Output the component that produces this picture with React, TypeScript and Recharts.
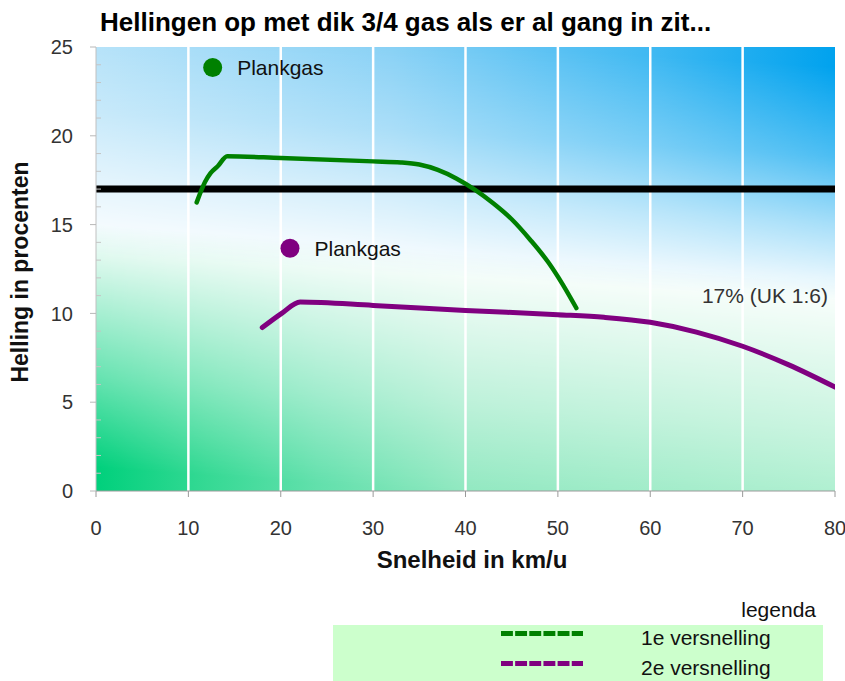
import React from 'react';
import {
  ComposedChart,
  Line,
  XAxis,
  YAxis,
  ReferenceArea,
  ReferenceLine,
  ReferenceDot,
} from 'recharts';

// ---- data ----
const gear1Speed = [10.9, 11.8, 12.4, 13.2, 14.2, 20, 30, 33, 35, 37, 39, 41, 43, 45, 47, 49, 50.5, 52];
const gear1Slope = [16.25, 17.4, 17.9, 18.3, 18.85, 18.75, 18.56, 18.5, 18.38, 18.08, 17.6, 16.97, 16.2, 15.3, 14.15, 12.85, 11.65, 10.3];

const gear2Speed = [18, 20.1, 22.1, 30, 40, 50, 55, 60, 65, 70, 75, 80];
const gear2Slope = [9.2, 10.0, 10.64, 10.45, 10.17, 9.93, 9.78, 9.5, 8.95, 8.15, 7.1, 5.85];

const seriesNames = ['1e versnelling', '2e versnelling'];
const seriesColors = ['#008000', '#800080'];

const xTicks = [0, 10, 20, 30, 40, 50, 60, 70, 80];
const yTicks = [0, 1, 2, 3, 4, 5, 6, 7, 8, 9, 10, 11, 12, 13, 14, 15, 16, 17, 18, 19, 20, 21, 22, 23, 24, 25];
const gridX = [10, 20, 30, 40, 50, 60, 70];

const limitSlope = 17;
const limitLabel = '17% (UK 1:6)';
const limitLabelAt = { x: 80, y: 11 };
const markers = [
  { x: 12.63, y: 23.85, label: 'Plankgas', color: '#008000' },
  { x: 21.0, y: 13.67, label: 'Plankgas', color: '#800080' },
];

const title = 'Hellingen op met dik 3/4 gas als er al gang in zit...';
const xLabel = 'Snelheid in km/u';
const yLabel = 'Helling in procenten';
const legendTitle = 'legenda';

const gear1 = gear1Speed.map((x, i) => ({ x, y: gear1Slope[i] }));
const gear2 = gear2Speed.map((x, i) => ({ x, y: gear2Slope[i] }));

const FONT = "Arial, 'Liberation Sans', sans-serif";

const BgShape = (props: any) => {
  const { x, y, width, height } = props;
  if (x == null) return null;
  return (
    <g>
      <defs>
        <linearGradient id="blueH" x1="0" y1="0" x2="1" y2="0">
          <stop offset="0" stopColor="#b0e0f8" />
          <stop offset="0.4" stopColor="#86d0f5" />
          <stop offset="0.75" stopColor="#40b9f2" />
          <stop offset="1" stopColor="#00a2ee" />
        </linearGradient>
        <linearGradient id="greenH" x1="0" y1="0" x2="1" y2="0">
          <stop offset="0" stopColor="#00d07c" />
          <stop offset="0.15" stopColor="#35d994" />
          <stop offset="0.3" stopColor="#62e0ac" />
          <stop offset="0.5" stopColor="#90e8c0" />
          <stop offset="1" stopColor="#a4edca" />
        </linearGradient>
        <linearGradient id="blueV" x1="0.55" y1="0" x2="0.45" y2="1">
          <stop offset="0" stopColor="#ffffff" stopOpacity={1} />
          <stop offset="0.2" stopColor="#ffffff" stopOpacity={0.7} />
          <stop offset="0.35" stopColor="#ffffff" stopOpacity={0.35} />
          <stop offset="0.52" stopColor="#ffffff" stopOpacity={0} />
          <stop offset="1" stopColor="#ffffff" stopOpacity={0} />
        </linearGradient>
        <linearGradient id="greenV" x1="0.56" y1="0" x2="0.44" y2="1">
          <stop offset="0" stopColor="#ffffff" stopOpacity={0} />
          <stop offset="0.46" stopColor="#ffffff" stopOpacity={0} />
          <stop offset="0.6" stopColor="#ffffff" stopOpacity={0.25} />
          <stop offset="0.8" stopColor="#ffffff" stopOpacity={0.6} />
          <stop offset="0.95" stopColor="#ffffff" stopOpacity={0.9} />
          <stop offset="1" stopColor="#ffffff" stopOpacity={1} />
        </linearGradient>
        <mask id="blueMask" maskUnits="userSpaceOnUse" x={x} y={y} width={width} height={height}>
          <rect x={x} y={y} width={width} height={height} fill="url(#blueV)" />
        </mask>
        <mask id="greenMask" maskUnits="userSpaceOnUse" x={x} y={y} width={width} height={height}>
          <rect x={x} y={y} width={width} height={height} fill="url(#greenV)" />
        </mask>
      </defs>
      <rect x={x} y={y} width={width} height={height} fill="#ffffff" />
      <rect x={x} y={y} width={width} height={height} fill="url(#blueH)" mask="url(#blueMask)" />
      <rect x={x} y={y} width={width} height={height} fill="url(#greenH)" mask="url(#greenMask)" />
    </g>
  );
};

const YTick = (props: any) => {
  const { x, y, payload } = props;
  const v = payload.value;
  const axisX = x + 23;
  const major = v % 5 === 0;
  return (
    <g>
      {major ? (
        <line x1={axisX - 6} x2={axisX} y1={y} y2={y} stroke="#b8b8b8" strokeWidth={1} />
      ) : (
        <line x1={axisX} x2={axisX + 5} y1={y} y2={y} stroke="#c4c4c4" strokeWidth={1} />
      )}
      {major && (
        <text x={x} y={y} dy="0.355em" textAnchor="end" fontSize={20} fill="#333" fontFamily={FONT}>
          {v}
        </text>
      )}
    </g>
  );
};

const XLabel = (props: any) => {
  const vb = props.viewBox || {};
  return (
    <text
      x={vb.x + vb.width / 2 + 6.5}
      y={vb.y + 77}
      textAnchor="middle"
      fontSize={24}
      fontWeight="bold"
      fill="#111"
      fontFamily={FONT}
    >
      {xLabel}
    </text>
  );
};

const YLabel = (props: any) => {
  const vb = props.viewBox || {};
  return (
    <text
      transform={`translate(${vb.x - 8}, ${vb.y + vb.height / 2 + 3}) rotate(-90)`}
      textAnchor="middle"
      fontSize={23}
      fontWeight="bold"
      fill="#111"
      fontFamily={FONT}
    >
      {yLabel}
    </text>
  );
};

export default function App() {
  return (
    <div style={{ position: 'absolute', left: 0, top: 0, width: 845, height: 681, background: '#fff', fontFamily: FONT }}>
      <div
        style={{
          position: 'absolute',
          left: 100,
          top: 9,
          fontSize: 26,
          lineHeight: 1,
          fontWeight: 'bold',
          whiteSpace: 'nowrap',
          color: '#000',
        }}
      >
        {title}
      </div>
      <ComposedChart
        width={845}
        height={681}
        margin={{ top: 47, right: 10, left: 36, bottom: 150 }}
        style={{ position: 'absolute', left: 0, top: 0 }}
      >
        <XAxis
          type="number"
          dataKey="x"
          domain={[0, 80]}
          ticks={xTicks}
          interval={0}
          allowDataOverflow
          height={40}
          stroke="#9a9a9a"
          tickSize={6}
          tickMargin={24}
          tick={{ fontSize: 20, fill: '#333', fontFamily: FONT }}
          label={<XLabel />}
        />
        <YAxis
          type="number"
          domain={[0, 25]}
          ticks={yTicks}
          interval={0}
          width={60}
          stroke="#c0c0c0"
          tickLine={false}
          tickSize={0}
          tickMargin={23}
          tick={<YTick />}
          label={<YLabel />}
        />
        <ReferenceArea x1={0} x2={80} y1={0} y2={25} shape={<BgShape />} ifOverflow="extendDomain" />
        {gridX.map((g) => (
          <ReferenceLine key={g} x={g} stroke="#ffffff" strokeWidth={2.5} />
        ))}
        <ReferenceLine y={limitSlope} stroke="#000000" strokeWidth={7} />
        <ReferenceDot
          x={limitLabelAt.x}
          y={limitLabelAt.y}
          r={1}
          fill="none"
          stroke="none"
          label={{ value: limitLabel, position: 'left', offset: 6, fontSize: 21, fill: '#333', fontFamily: FONT }}
        />
        {markers.map((m, i) => (
          <ReferenceDot
            key={i}
            x={m.x}
            y={m.y}
            r={9.5}
            fill={m.color}
            stroke="none"
            label={{ value: m.label, position: 'right', offset: 15, fontSize: 21, fill: '#111', fontFamily: FONT }}
          />
        ))}
        <Line
          data={gear1}
          dataKey="y"
          name={seriesNames[0]}
          type="monotone"
          stroke={seriesColors[0]}
          strokeWidth={4.5}
          strokeLinecap="round"
          dot={false}
          activeDot={false}
          isAnimationActive={false}
        />
        <Line
          data={gear2}
          dataKey="y"
          name={seriesNames[1]}
          type="monotone"
          stroke={seriesColors[1]}
          strokeWidth={5}
          strokeLinecap="round"
          dot={false}
          activeDot={false}
          isAnimationActive={false}
        />
      </ComposedChart>
      <svg width={845} height={681} style={{ position: 'absolute', left: 0, top: 0, pointerEvents: 'none' }}>
        <text x={816} y={617} textAnchor="end" fontSize={21} fill="#111" fontFamily={FONT}>
          {legendTitle}
        </text>
        <rect x={333} y={625} width={490} height={56} fill="#ccffcc" />
        {seriesNames.map((n, i) => (
          <g key={n}>
            <line
              x1={501}
              x2={583}
              y1={633.5 + i * 30}
              y2={633.5 + i * 30}
              stroke={seriesColors[i]}
              strokeWidth={5}
              strokeDasharray="11.9 2.25"
            />
            <text x={641} y={645 + i * 30} fontSize={21} fill="#111" fontFamily={FONT}>
              {n}
            </text>
          </g>
        ))}
      </svg>
    </div>
  );
}
